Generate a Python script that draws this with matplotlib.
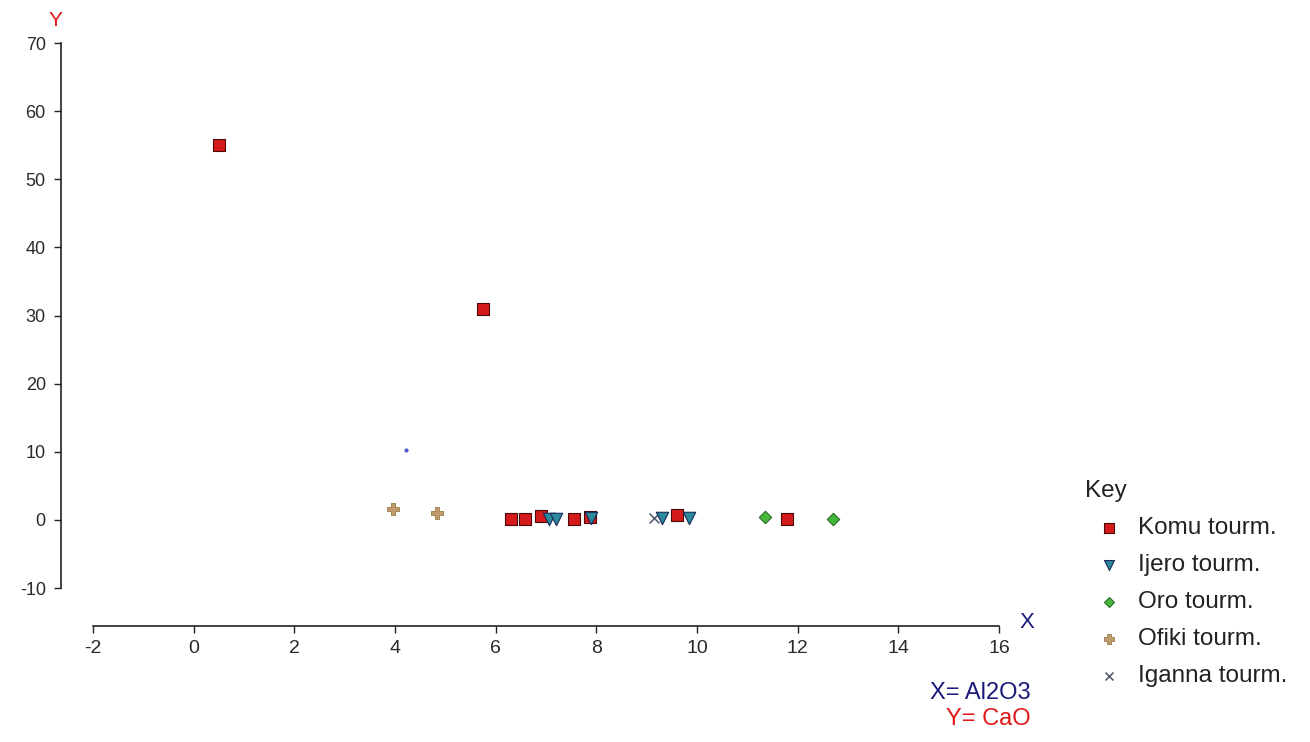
import matplotlib
matplotlib.use("Agg")
import matplotlib.pyplot as plt

plt.rcParams['font.family'] = ['Liberation Sans', 'DejaVu Sans']
plt.rcParams['axes.unicode_minus'] = False

# Al2O3 (x) vs CaO (y) for each tourmaline group
komu_x = [0.5, 5.75, 6.3, 6.58, 6.9, 7.55, 7.88, 9.6, 11.78]
komu_y = [55.0, 31.0, 0.1, 0.1, 0.6, 0.1, 0.4, 0.7, 0.1]
ijero_x = [7.05, 7.2, 7.9, 9.3, 9.85]
ijero_y = [0.2, 0.2, 0.3, 0.3, 0.3]
oro_x = [11.35, 12.7]
oro_y = [0.5, 0.2]
ofiki_x = [3.96, 4.83]
ofiki_y = [1.6, 1.0]
iganna_x = [9.15]
iganna_y = [0.3]
stray_x = [4.21]
stray_y = [10.3]

fig = plt.figure(figsize=(13.1, 7.42), dpi=100)
ax = fig.add_axes([0.071, 0.2075, 0.6916, 0.7345])

ax.scatter(komu_x, komu_y, marker='s', s=80, color='#d41a1a', edgecolor='#4a0a0a',
           linewidth=0.8, label='Komu tourm.', zorder=3)
ax.scatter(ijero_x, ijero_y, marker='v', s=80, color='#2a8a9c', edgecolor='#1a2a5a',
           linewidth=0.8, label='Ijero tourm.', zorder=3)
ax.scatter(oro_x, oro_y, marker='D', s=40, color='#44b83a', edgecolor='#2a6a2a',
           linewidth=0.8, label='Oro tourm.', zorder=3)
ax.scatter(ofiki_x, ofiki_y, marker='P', s=70, color='#c09a6a', edgecolor='#9a7a50',
           linewidth=0.6, label='Ofiki tourm.', zorder=3)
ax.scatter(iganna_x, iganna_y, marker='x', s=50, color='#556070', linewidth=1.2,
           label='Iganna tourm.', zorder=2)
ax.scatter(stray_x, stray_y, marker='o', s=4, color='#4a5ad0', zorder=3)

ax.set_xlim(-2, 16)
ax.set_ylim(-10, 70)
ax.set_xticks(range(-2, 17, 2))
ax.set_yticks(range(-10, 71, 10))

for s in ['top', 'right']:
    ax.spines[s].set_visible(False)
ax.spines['left'].set_position(('outward', 23))
ax.spines['bottom'].set_position(('outward', 27.5))
for s in ['left', 'bottom']:
    ax.spines[s].set_color('#222222')
    ax.spines[s].set_linewidth(1.2)
ax.tick_params(length=5, width=1, color='#222222', labelcolor='#2a2a2a')
ax.tick_params(axis='y', labelsize=13, pad=6)
ax.tick_params(axis='x', labelsize=14, pad=5)

fig.text(55 / 1310, 1 - 20 / 742, 'Y', color='#e01818', fontsize=15, ha='center', va='center')
fig.text(1027 / 1310, 1 - 622 / 742, 'X', color='#1a1a7a', fontsize=16, ha='center', va='center')
fig.text(1031 / 1310, 1 - 693 / 742, 'X= Al2O3', color='#1a1a7a', fontsize=17, ha='right', va='center')
fig.text(1031 / 1310, 1 - 719 / 742, 'Y= CaO', color='#e01818', fontsize=17, ha='right', va='center')

leg = ax.legend(title='Key', loc='upper left', bbox_to_anchor=(1063 / 1310, 1 - 458 / 742),
                bbox_transform=fig.transFigure, frameon=False, fontsize=17.5,
                title_fontsize=17.5, handlelength=2.0, handletextpad=0.2,
                labelspacing=0.62, markerscale=0.8)
leg._legend_box.align = 'left'
for t in leg.get_texts():
    t.set_color('#222222')
leg.get_title().set_color('#222222')

fig.savefig('out.png', dpi=100)
